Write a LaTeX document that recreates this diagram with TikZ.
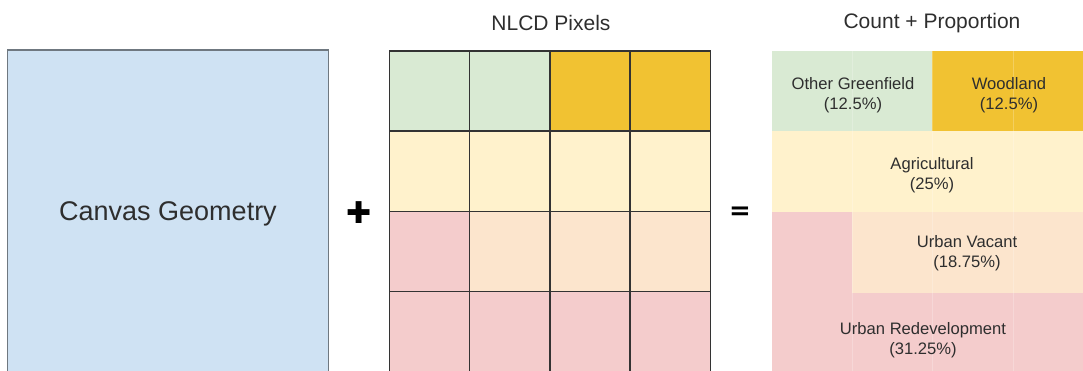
\documentclass[tikz,border=0pt]{standalone}
\usepackage{fontspec}
\setmainfont{Liberation Sans}
\newfontfamily\symfont{DejaVu Sans}
\usetikzlibrary{positioning,calc}
\definecolor{canvasblue}{HTML}{CFE2F3}
\definecolor{canvasedge}{HTML}{6F7880}
\definecolor{greenfield}{HTML}{D9EAD3}
\definecolor{woodland}{HTML}{F1C232}
\definecolor{agri}{HTML}{FFF2CC}
\definecolor{vacant}{HTML}{FCE5CD}
\definecolor{redev}{HTML}{F4CCCC}
\definecolor{inkgray}{HTML}{2E2E2E}
\tikzset{
  pixelbox/.style={draw=black!80, line width=0.7pt, minimum size=40.1pt, inner sep=0pt},
  paneltitle/.style={font=\fontsize{10.5}{12}\selectfont, text=inkgray},
  classlabel/.style={font=\fontsize{8.3}{10}\selectfont, text=inkgray, align=center},
  opsign/.style={font=\symfont\bfseries, text=black},
}

\begin{document}
\begin{tikzpicture}[x=0.5pt, y=-0.5pt]
\useasboundingbox (0,0) rectangle (1083,370);
\clip (0,0) rectangle (1083,370);

% canvas
\node (canvas) [draw=canvasedge, line width=0.7pt, fill=canvasblue, minimum width=160.5pt,
  minimum height=161pt, inner sep=0pt, text depth=0pt, font=\fontsize{13.5}{16}\selectfont, text=inkgray]
  at (168,211) {Canvas Geometry};
\node (plus) [opsign, font=\symfont\fontsize{15}{15}\selectfont] at (359,213) {✚};

% nlcd pixels
\node (nlcd) [paneltitle] at (551,23) {NLCD Pixels};
\foreach \row/\cls in {0/{greenfield,greenfield,woodland,woodland},
                       1/{agri,agri,agri,agri},
                       2/{redev,vacant,vacant,vacant},
                       3/{redev,redev,redev,redev}}
  \foreach \c [count=\i from 0] in \cls
    \node (px-\row-\i) [pixelbox, fill=\c] at (429.5+80.2*\i, 91+80.2*\row) {};
\node (equals) [opsign, font=\symfont\bfseries\fontsize{13}{13}\selectfont] at (740,213) {=};

% count + proportion
\node (count) [paneltitle] at (932,23) {Count + Proportion};
\fill[greenfield] (772,51) rectangle (932,131);
\fill[woodland] (932,51) rectangle (1093,131);
\fill[agri] (772,131) rectangle (1093,212);
\fill[redev] (772,212) rectangle (1093,372);
\fill[vacant] (852,212) rectangle (1093,293);
\foreach \x in {852,932,1013}
  \draw[white, opacity=0.22, line width=0.4pt] (\x,51) -- (\x,372);
\node (lbl-green) [classlabel] at (853,95) {Other Greenfield\\(12.5\%)};
\node (lbl-wood) [classlabel] at (1009,95) {Woodland\\(12.5\%)};
\node (lbl-agri) [classlabel] at (932,175) {Agricultural\\(25\%)};
\node (lbl-vacant) [classlabel] at (967,253) {Urban Vacant\\(18.75\%)};
\node (lbl-redev) [classlabel] at (923,340) {Urban Redevelopment\\(31.25\%)};
\end{tikzpicture}
\end{document}
